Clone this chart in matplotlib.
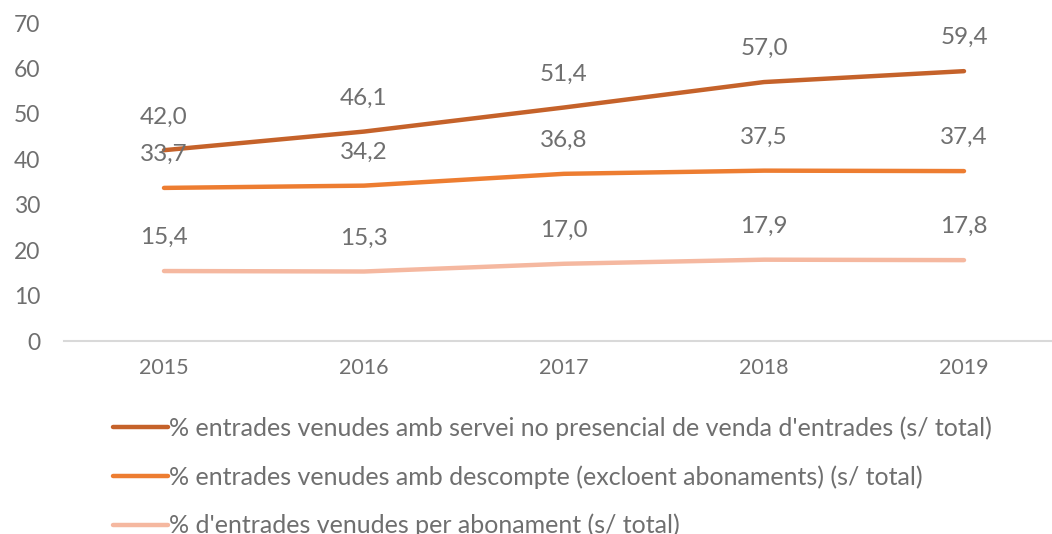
import matplotlib
matplotlib.use("Agg")
import matplotlib.pyplot as plt

plt.rcParams['font.family'] = ['Lato', 'DejaVu Sans']

years = ["2015", "2016", "2017", "2018", "2019"]
no_presencial = [42.0, 46.1, 51.4, 57.0, 59.4]
descompte = [33.7, 34.2, 36.8, 37.5, 37.4]
abonament = [15.4, 15.3, 17.0, 17.9, 17.8]
labels = [
    "% entrades venudes amb servei no presencial de venda d'entrades (s/ total)",
    "% entrades venudes amb descompte (excloent abonaments) (s/ total)",
    "% d'entrades venudes per abonament (s/ total)",
]
colors = ["#C5622A", "#ED7D31", "#F5B8A0"]
grey = "#6F6F6F"

fig = plt.figure(figsize=(10.52, 5.34), dpi=100)
ax = fig.add_axes([64 / 1052, (534 - 341) / 534, 1 - 64 / 1052, (341 - 23) / 534])

x = list(range(len(years)))
for vals, lab, c in zip([no_presencial, descompte, abonament], labels, colors):
    ax.plot(x, vals, color=c, lw=3.2, solid_capstyle='round', label=lab)
    for xi, v in zip(x, vals):
        ax.annotate(f"{v:.1f}".replace(".", ","), (xi, v), xytext=(0, 24),
                    textcoords='offset points', ha='center', va='center',
                    fontsize=17.5, color=grey)

ax.set_xlim(-0.5, 4.44)
ax.set_ylim(0, 70)
ax.set_yticks(range(0, 71, 10))
ax.set_xticks(x)
ax.set_xticklabels(years)
for s in ['top', 'right', 'left']:
    ax.spines[s].set_visible(False)
ax.spines['bottom'].set_color('#D9D9D9')
ax.spines['bottom'].set_linewidth(1.5)
ax.tick_params(axis='y', length=0, labelsize=16.5, labelcolor=grey, pad=17)
ax.tick_params(axis='x', length=0, labelsize=15.5, labelcolor=grey, pad=12)

leg = fig.legend(loc='upper left', bbox_to_anchor=(100 / 1052, 1 - 404 / 534),
                 frameon=False, fontsize=18, labelcolor=grey, handlelength=2.2,
                 handletextpad=0.05, labelspacing=1.0, borderpad=0)
for line in leg.get_lines():
    line.set_linewidth(3.2)

fig.savefig("out.png", dpi=100)
